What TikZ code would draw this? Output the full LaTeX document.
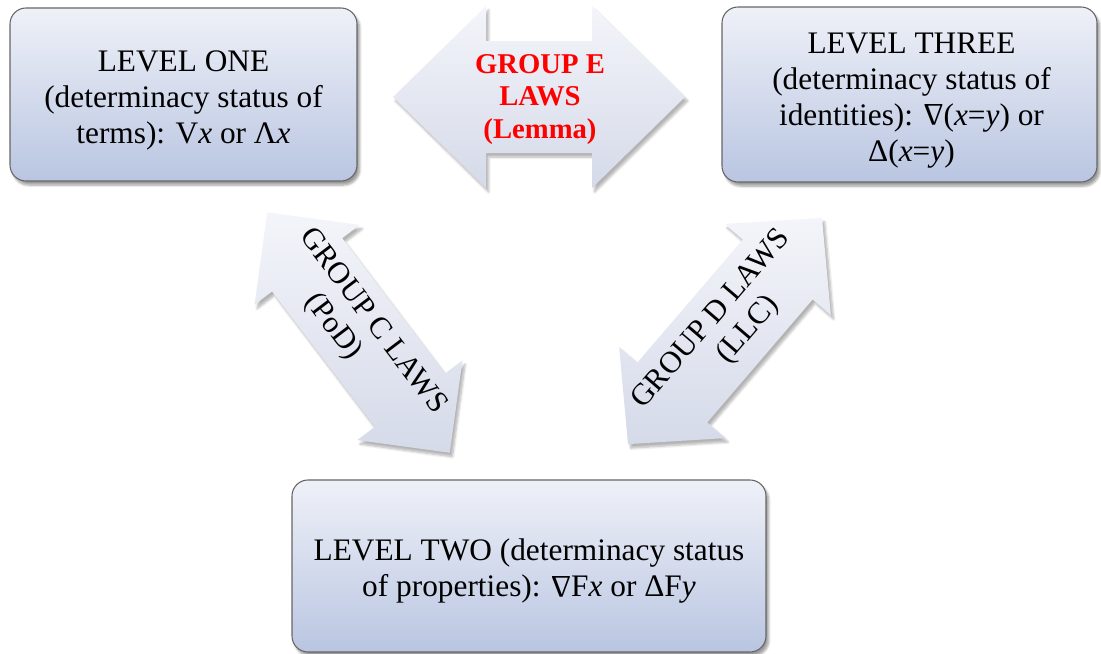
\documentclass[tikz,border=0pt]{standalone}
\usepackage{fontspec}
\setmainfont{Liberation Serif}
\usepackage{graphicx}
\usetikzlibrary{shadows.blur}
\definecolor{boxtop}{HTML}{EFF1F8}
\definecolor{boxbot}{HTML}{B9C5E1}
\definecolor{arrtop}{HTML}{F4F5FA}
\definecolor{arrbot}{HTML}{D5DAE9}
\definecolor{lawred}{HTML}{FF0000}
\newcommand{\Nab}{\rotatebox[origin=c]{180}{Δ}}
\begin{document}
\begin{tikzpicture}[x=0.75pt,y=-0.75pt,
  levelbox/.style={draw=black!60, line width=0.8pt, rounded corners=12pt,
    top color=boxtop, bottom color=boxbot,
    blur shadow={shadow xshift=2pt, shadow yshift=-3pt, shadow blur steps=6, shadow opacity=40},
    inner sep=0pt},
  leveltext/.style={align=center, font=\fontsize{23.5}{27}\selectfont, inner sep=0pt},
  lawarrow/.style={top color=arrtop, bottom color=arrbot, draw=none,
    blur shadow={shadow xshift=2pt, shadow yshift=-3pt, shadow blur steps=6, shadow opacity=30}},
  lawtext/.style={align=center, font=\fontsize{23}{26}\selectfont, inner sep=0pt},
  redtext/.style={align=center, text=lawred, font=\bfseries\fontsize{21.5}{24.5}\selectfont, inner sep=0pt}
]
\useasboundingbox (0,0) rectangle (1101,654);

% Group E arrow
\begin{scope}[shift={(539,97)}]
\path[lawarrow] (-146,0) -- (-53,-91) -- (-53,-56) -- (53,-56) -- (53,-91) -- (146,0)
  -- (53,91) -- (53,56) -- (-53,56) -- (-53,91) -- cycle;
\end{scope}
% Group C arrow
\begin{scope}[shift={(358.5,332.5)},rotate=-52.8]
\path[lawarrow] (-151,0) -- (-85,-66) -- (-85,-44) -- (85,-44) -- (85,-66) -- (151,0)
  -- (85,66) -- (85,44) -- (-85,44) -- (-85,66) -- cycle;
\end{scope}
% Group D arrow
\begin{scope}[shift={(725,331)},rotate=49.4]
\path[lawarrow] (-149,0) -- (-81,-70) -- (-81,-46) -- (81,-46) -- (81,-70) -- (149,0)
  -- (81,70) -- (81,46) -- (-81,46) -- (-81,70) -- cycle;
\end{scope}

\node[levelbox, minimum width=260.25pt, minimum height=129.75pt] (one) at (183.5,94.5) {};
\node[levelbox, minimum width=281.25pt, minimum height=131.25pt] (three) at (909.5,94.5) {};
\node[levelbox, minimum width=355.5pt, minimum height=129pt] (two) at (529,566) {};

\node[leveltext] (onet) at ([yshift=-4.5pt]one.center)
  {LEVEL ONE\\(determinacy status of\\terms): V\textit{x} or Λ\textit{x}};
\node[leveltext] (threet) at ([xshift=1.5pt,yshift=-4.5pt]three.center)
  {LEVEL THREE\\(determinacy status of\\identities): \Nab(\textit{x}=\textit{y}) or\\Δ(\textit{x}=\textit{y})};
\node[leveltext] (twot) at ([yshift=-4pt]two.center)
  {LEVEL TWO (determinacy status\\of properties): \Nab F\textit{x} or ΔF\textit{y}};

\node[redtext] (e) at (540,99.5) {GROUP E\\LAWS\\(Lemma)};
\node[lawtext, rotate=-52.8] (c) at (358.5,332.5) {GROUP C LAWS\\(PoD)\hspace*{30pt}};
\node[lawtext, rotate=49.4] (d) at (725,331) {GROUP D LAWS\\\hspace*{24pt}(LLC)};
\end{tikzpicture}
\end{document}
